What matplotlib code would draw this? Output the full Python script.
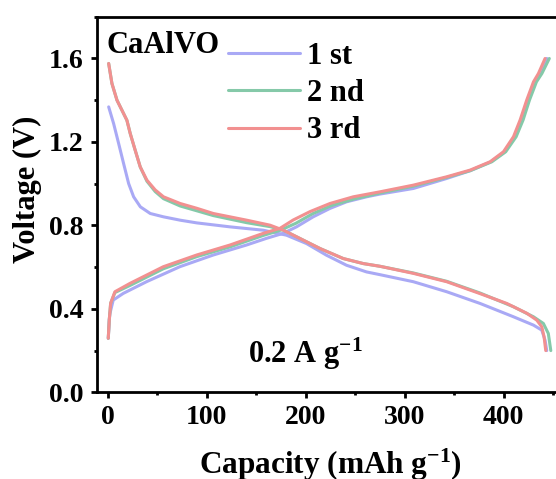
import matplotlib
matplotlib.use("Agg")
import matplotlib.pyplot as plt
from matplotlib.ticker import MultipleLocator

plt.rcParams['font.family'] = ['Liberation Serif', 'DejaVu Serif']
plt.rcParams['font.weight'] = 'bold'
plt.rcParams['mathtext.fontset'] = 'custom'
plt.rcParams['mathtext.rm'] = 'Liberation Serif:bold'
plt.rcParams['mathtext.bf'] = 'Liberation Serif:bold'
plt.rcParams['mathtext.default'] = 'rm'

# discharge curves (capacity mAh/g, voltage V)
dis1_cap = [1, 6, 11.1, 16.1, 21.2, 26.2, 33, 43, 56.4, 73.2, 90, 123.5, 157, 180.6, 200.8,
            221, 241.2, 261.4, 274.8, 308.7, 342.4, 376, 409.8, 430, 438.4, 441.7, 443.4]
dis1_v = [1.368, 1.288, 1.192, 1.096, 1.0, 0.937, 0.889, 0.857, 0.841, 0.825, 0.812, 0.793, 0.777, 0.753, 0.713,
          0.657, 0.609, 0.577, 0.564, 0.530, 0.482, 0.426, 0.362, 0.322, 0.298, 0.25, 0.2]

dis2_cap = [1, 4.3, 9.4, 14.4, 19.4, 22.8, 27.8, 32.9, 39.6, 48, 56.4, 73.2, 90, 106.7, 140.4, 164,
            177.4, 194.3, 214.5, 238, 258.2, 275, 308.7, 342.4, 376, 409.8, 430, 440, 445, 447.5]
dis2_v = [1.576, 1.48, 1.40, 1.352, 1.304, 1.24, 1.16, 1.08, 1.012, 0.962, 0.928, 0.893, 0.87, 0.847,
          0.813, 0.794, 0.777, 0.737, 0.689, 0.641, 0.617, 0.604, 0.572, 0.532, 0.476, 0.41, 0.362, 0.33, 0.282, 0.2]

dis3_cap = [1, 4.3, 9.4, 14.4, 19.4, 22.8, 27.8, 32.9, 39.6, 48, 56.4, 73.2, 90, 106.7, 140.4, 164,
            177.4, 194.3, 214.5, 238, 258.2, 275, 308.7, 342.4, 376, 403, 423.2, 433.3, 438.4, 440.7, 442.4]
dis3_v = [1.576, 1.48, 1.40, 1.352, 1.304, 1.24, 1.16, 1.08, 1.017, 0.97, 0.937, 0.905, 0.882, 0.857,
          0.825, 0.801, 0.777, 0.737, 0.689, 0.641, 0.617, 0.604, 0.570, 0.530, 0.473, 0.426, 0.379, 0.346, 0.314,
          0.266, 0.2]

# charge curves
chg1_cap = [0.6, 1.6, 2.3, 5.6, 15.7, 39.2, 72.9, 106.6, 140.2, 160.4, 177.2, 190.7, 207.5, 224.3, 241.2,
            261.4, 274.8, 308.7, 342.4, 366, 387, 401, 411, 418, 424.5, 431.5, 436.5, 443.5]
chg1_v = [0.259, 0.347, 0.378, 0.442, 0.474, 0.53, 0.602, 0.658, 0.706, 0.738, 0.762, 0.793, 0.841, 0.881, 0.913,
          0.937, 0.95, 0.977, 1.025, 1.062, 1.105, 1.153, 1.225, 1.305, 1.401, 1.488, 1.528, 1.6]

chg2_cap = [0.6, 1.6, 3, 7.3, 22.5, 56.2, 89.8, 123.5, 157.2, 174, 190, 207, 226, 250, 275, 308.7, 342.4,
            366, 388, 402, 412.5, 419.5, 426, 433, 438.5, 446]
chg2_v = [0.259, 0.347, 0.427, 0.478, 0.512, 0.592, 0.65, 0.697, 0.752, 0.776, 0.81, 0.856, 0.895, 0.928, 0.955,
          0.988, 1.03, 1.062, 1.105, 1.153, 1.225, 1.305, 1.401, 1.488, 1.528, 1.6]

chg3_cap = [0.6, 1.6, 3, 7.3, 22.5, 56.2, 89.8, 123.5, 157.2, 174, 187.4, 204.3, 224.5, 248, 275, 308.7,
            342.4, 366, 386.2, 399.7, 409.8, 416.5, 423.2, 430, 435, 441.7]
chg3_v = [0.259, 0.347, 0.427, 0.482, 0.522, 0.602, 0.658, 0.706, 0.762, 0.786, 0.826, 0.866, 0.905, 0.937, 0.961,
          0.993, 1.033, 1.065, 1.105, 1.153, 1.225, 1.305, 1.401, 1.488, 1.528, 1.6]

labels = ['1 st', '2 nd', '3 rd']
colors = ['#a9a9f5', '#85c9a9', '#f29090']

fig = plt.figure(figsize=(5.56, 4.79), dpi=100)
ax = fig.add_axes([0.1739, 0.181, 0.839, 0.784])

curves = [(dis1_cap, dis1_v, chg1_cap, chg1_v),
          (dis2_cap, dis2_v, chg2_cap, chg2_v),
          (dis3_cap, dis3_v, chg3_cap, chg3_v)]
for (dc, dv, cc, cv), lab, col in zip(curves, labels, colors):
    ax.plot(dc, dv, color=col, lw=2.2, label=lab, solid_capstyle='round', solid_joinstyle='round')
    ax.plot(cc, cv, color=col, lw=2.2, solid_capstyle='round', solid_joinstyle='round')

ax.set_xlim(-11.1, 460)
ax.set_ylim(0, 1.8)
ax.xaxis.set_major_locator(MultipleLocator(100))
ax.xaxis.set_minor_locator(MultipleLocator(50))
ax.yaxis.set_major_locator(MultipleLocator(0.4))
ax.yaxis.set_minor_locator(MultipleLocator(0.2))
ax.yaxis.set_major_formatter(matplotlib.ticker.FormatStrFormatter('%.1f'))
ax.tick_params(which='major', direction='out', length=4.3, width=2, labelsize=20, pad=5)
ax.tick_params(which='minor', direction='out', length=2.2, width=2)
ax.spines['right'].set_visible(False)
for s in ['left', 'bottom', 'top']:
    ax.spines[s].set_linewidth(2)

ax.set_xlabel('Capacity (mAh g$^{-1}$)', fontsize=22.5, fontweight='bold')
ax.set_ylabel('Voltage (V)', fontsize=22, fontweight='bold')
ax.xaxis.set_label_coords(0.502, -0.146)
ax.yaxis.set_label_coords(-0.118, 0.541)

ax.text(0.0214, 0.9026, 'CaAlVO', transform=ax.transAxes, fontsize=22, fontweight='bold',
        ha='left', va='baseline')
ax.text(0.324, 0.078, '0.2 A g$^{-1}$', transform=ax.transAxes, fontsize=22, fontweight='bold',
        ha='left', va='baseline')

ax.legend(loc='upper left', bbox_to_anchor=(0.2815, 0.933), frameon=False, fontsize=22,
          borderpad=0, borderaxespad=0, handlelength=2.35, handletextpad=0.22, labelspacing=0.27)

fig.savefig('out.png', dpi=100)
